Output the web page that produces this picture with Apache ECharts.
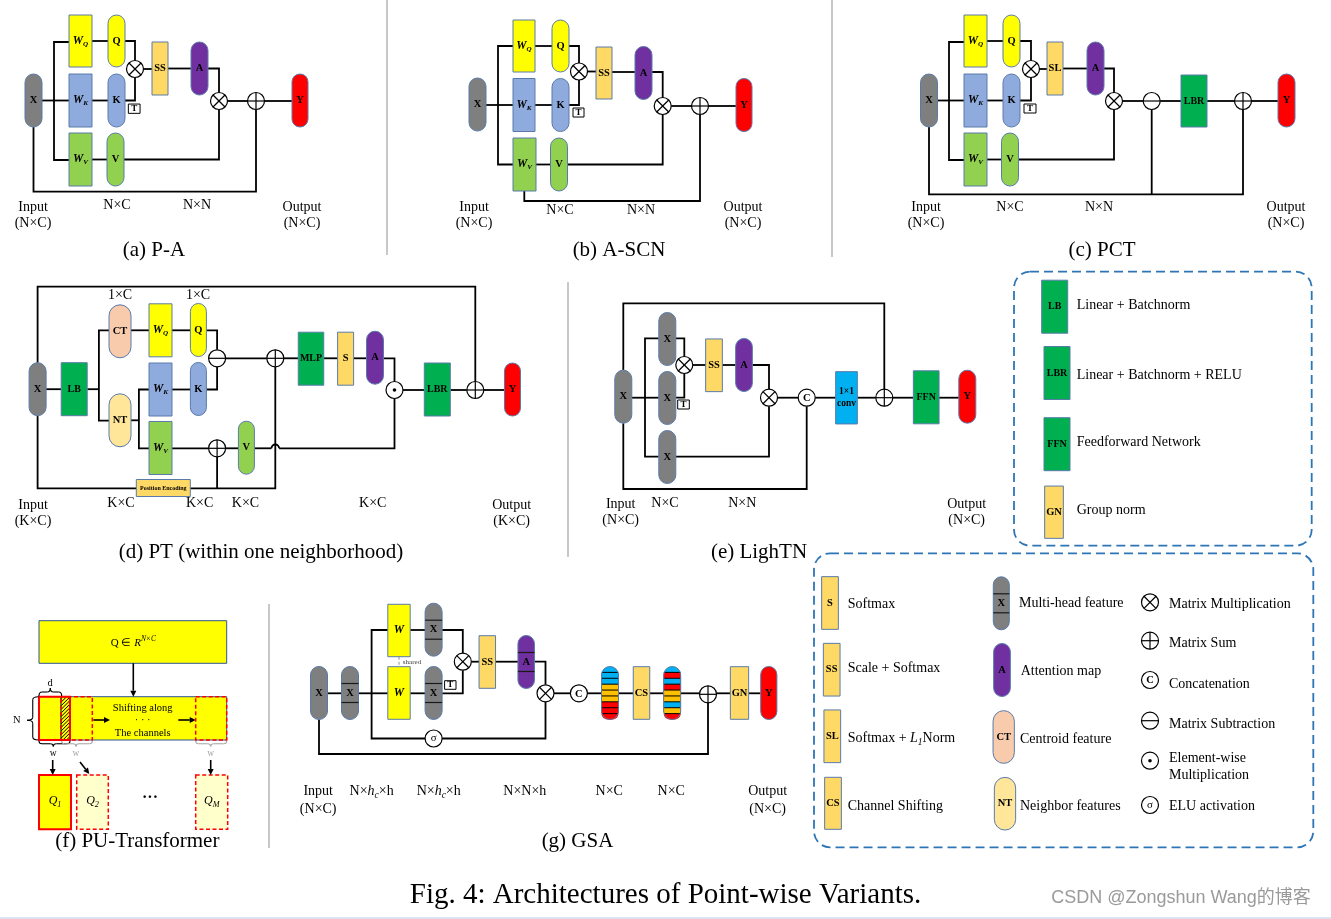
<!DOCTYPE html>
<html><head><meta charset="utf-8">
<script src="https://cdn.jsdelivr.net/npm/echarts@6/dist/echarts.min.js"></script>
<style>html,body{margin:0;padding:0;background:#fff}#c{width:1331px;height:919px}</style>
</head><body><div id="c"></div>
<script>
const SERIF = '"Liberation Serif","Times New Roman",serif';
const SANS = '"Liberation Sans","Noto Sans CJK SC",sans-serif';
const FILL = {gray:'#7F7F7F', yel:'#FFFF00', blue:'#8FAADC', grn:'#92D050', ss:'#FFD966', pur:'#7030A0',
  red:'#FF0000', dg:'#00B050', ct:'#F8CBAD', nt:'#FFE699', cyan:'#00B0F0', white:'#FFFFFF',
  sb:'#00B0F0', so:'#FFC000', sr:'#FF0000', pale:'#FFFFCC', none:'none'};
const OP_R = 8.5;

// ---------- (a) P-A ----------
const paBlocks = [
  ['pill',33.5,100.5,17,53,'gray','X'], ['rect',80.5,41,23,52,'yel','W','Q'], ['pill',116.5,41,17,52,'yel','Q'],
  ['rect',80.5,100.5,23,53,'blue','W','K'], ['pill',116.5,100.5,17,53,'blue','K'],
  ['rect',80.5,159.5,23,53,'grn','W','V'], ['pill',115.5,159.5,17,53,'grn','V'],
  ['rect',160,68.5,16,53,'ss','SS'], ['pill',199.5,68.5,17,53,'pur','A'], ['pill',300,100.5,16,53,'red','Y'],
  ['tbox',134.2,108.7,11.7,9.3,'white','T']];
const paOps = [['mul',135,69],['mul',219,101],['sum',256,101]];
const paWires = [
  [42,100.5,69,100.5],[69,42,54,42,54,160,69,160],[92,41,108,41],[125,41,135,41,135,60.5],
  [92,100.5,108,100.5],[125,100.5,135,100.5,135,77.5],[92,159.5,107,159.5],[143.5,69,152,69],
  [168,68.5,191,68.5],[208,68.5,219,68.5,219,92.5],[124,159.5,219,159.5,219,109.5],
  [227.5,101,247.5,101],[264.5,101,292,101],[33.5,127,33.5,191.7,256,191.7,256,109.5]];
const paTexts = [['lab',33,207,'Input'],['lab',33,223,'(N×C)'],['lab',117,205,'N×C'],['lab',197,205,'N×N'],
  ['lab',302,207,'Output'],['lab',302,223,'(N×C)'],['cap',154,250,'(a) P-A']];

// ---------- (b) A-SCN ----------
const pbBlocks = [
  ['pill',477.5,104.5,17,53,'gray','X'], ['rect',524,46,22,52,'yel','W','Q'], ['pill',560.5,46,17,52,'yel','Q'],
  ['rect',524,105,22,53,'blue','W','K'], ['pill',560.5,105,17,53,'blue','K'],
  ['rect',524.5,164.5,23,53,'grn','W','V'], ['pill',559,164.5,17,53,'grn','V'],
  ['rect',604,73,16,52,'ss','SS'], ['pill',643.5,73,17,53,'pur','A'], ['pill',744,105,16,53,'red','Y'],
  ['tbox',578.5,112.5,11,9,'white','T']];
const pbOps = [['mul',579,71.5],['mul',662.7,106],['sum',700,106]];
const pbWires = [
  [486,105,513,105],[513,46,498,46,498,164.5,513,164.5],[535,46,552,46],[569,46,579,46,579,63],
  [535,105,552,105],[569,105,579,105,579,80],[536,164.5,550.5,164.5],[587.5,71.5,596,71.5],
  [612,72,635,72],[652,72,662.7,72,662.7,97.5],[567.5,164.5,662.7,164.5,662.7,114.5],
  [671.2,106,691.5,106],[708.5,106,736,106],[524.3,191,524.3,201,700,201,700,114.5]];
const pbTexts = [['lab',474,207,'Input'],['lab',474,223,'(N×C)'],['lab',560,210,'N×C'],['lab',641,210,'N×N'],
  ['lab',743,207,'Output'],['lab',743,223,'(N×C)'],['cap',619,250,'(b) A-SCN']];

// ---------- (c) PCT ----------
const pcBlocks = [
  ['pill',929,100.5,17,53,'gray','X'], ['rect',975.5,41,23,52,'yel','W','Q'], ['pill',1011.5,41,17,52,'yel','Q'],
  ['rect',975.5,100.5,23,53,'blue','W','K'], ['pill',1011.5,100.5,17,53,'blue','K'],
  ['rect',975.5,159.5,23,53,'grn','W','V'], ['pill',1010,159.5,17,53,'grn','V'],
  ['rect',1055,68.5,16,53,'ss','SL'], ['pill',1095.5,68.5,17,53,'pur','A'], ['rect',1194,101,26,52,'dg','LBR'],
  ['pill',1286.5,100.5,17,53,'red','Y'], ['tbox',1030,108.5,12,9,'white','T']];
const pcOps = [['mul',1031,69],['mul',1114,101],['sub',1151.7,101],['sum',1243,101]];
const pcWires = [
  [937.5,100.5,964,100.5],[964,42,949,42,949,160,964,160],[987,41,1003,41],[1020,41,1031,41,1031,60.5],
  [987,100.5,1003,100.5],[1020,100.5,1031,100.5,1031,77.5],[987,159.5,1002,159.5],[1039.5,69,1047,69],
  [1063,68.5,1087,68.5],[1104,68.5,1114,68.5,1114,92.5],[1018.5,159.5,1114,159.5,1114,109.5],
  [1122.5,101,1143.2,101],[1160.2,101,1181,101],[1207,101,1234.5,101],[1251.5,101,1278,101],
  [929,127,929,194.3,1243,194.3,1243,109.5],[1151.7,194.3,1151.7,109.5]];
const pcTexts = [['lab',926,207,'Input'],['lab',926,223,'(N×C)'],['lab',1010,207,'N×C'],['lab',1099,207,'N×N'],
  ['lab',1286,207,'Output'],['lab',1286,223,'(N×C)'],['cap',1102,250,'(c) PCT']];

// ---------- (d) PT ----------
const pdBlocks = [
  ['pill',37.6,389.2,17,53,'gray','X'], ['rect',74.2,389.2,26,53,'dg','LB'],
  ['pill',120,331.3,22,53,'ct','CT'], ['pill',120,420.3,22,53,'nt','NT'],
  ['rect',160.5,330.3,23,53,'yel','W','Q'], ['pill',198.4,330,16,53,'yel','Q'],
  ['rect',160.5,389.5,23,53,'blue','W','K'], ['pill',198.4,389,16,53,'blue','K'],
  ['rect',160.5,448,23,53,'grn','W','V'], ['pill',246.4,447.7,16,53,'grn','V'],
  ['rect',311,358.7,25.5,53,'dg','MLP'], ['rect',345.6,358.7,16,53,'ss','S'], ['pill',375,357.7,17,53,'pur','A'],
  ['rect',437.3,389.5,26,53,'dg','LBR'], ['pill',512.5,389.5,16,53,'red','Y'],
  ['rect',163.3,488,54,17,'ss','Position Encoding']];
const pdOps = [['sub',217.1,358.3],['sum',275.3,358.3],['dot',394.5,390],['sum',475.3,390],['sum',217.1,448.3]];
const pdWires = [
  [37.6,362.7,37.6,286.7,475.3,286.7,475.3,381.5],[46.1,389.2,61.2,389.2],[87.3,389.2,98.9,389.2],
  [109,330.3,98.9,330.3,98.9,420.7,109,420.7],[131,330.3,149,330.3],[172,330.3,190.4,330.3],
  [206.4,330.3,217.1,330.3,217.1,349.8],[131,420.3,138.9,420.3],[149,389.5,138.9,389.5,138.9,448.3,149,448.3],
  [172,389.5,190.4,389.5],[206.4,389.5,217.1,389.5,217.1,366.8],[225.6,358.3,266.8,358.3],
  [283.8,358.3,298.2,358.3],[323.7,358.3,337.6,358.3],[353.6,358.3,366.5,358.3],
  [383.5,358.3,394.5,358.3,394.5,381.5],[403,390,424.3,390],[450.3,390,466.8,390],[483.8,390,504.5,390],
  [172,448.3,208.6,448.3],[225.6,448.3,238.4,448.3],[254.4,448.3,271.5,448.3],
  [279.1,448.3,394.5,448.3,394.5,398.5],[37.6,415.7,37.6,488.3,275.3,488.3,275.3,366.8],[217.1,488.3,217.1,456.8]];
const pdHops = [[275.3,448.3,3.8]];
const pdTexts = [['lab',120,295,'1×C'],['lab',198,295,'1×C'],['lab',33,505,'Input'],['lab',33,521,'(K×C)'],
  ['lab',121,503,'K×C'],['lab',199.6,503,'K×C'],['lab',245.5,503,'K×C'],['lab',372.7,503,'K×C'],
  ['lab',511.6,505,'Output'],['lab',511.6,521,'(K×C)'],['cap',261,552,'(d) PT (within one neighborhood)']];

// ---------- (e) LighTN ----------
const peBlocks = [
  ['pill',623.3,396.7,17,53,'gray','X'], ['pill',667.3,339,17,53,'gray','X'], ['pill',667.3,398,17,53,'gray','X'],
  ['pill',667.3,457,17,53,'gray','X'], ['rect',714,365.3,16.7,52.7,'ss','SS'], ['pill',744,365,16.7,53,'pur','A'],
  ['rect',846.5,397.8,21.7,52.3,'cyan','1×1\nconv'], ['rect',926.2,397.3,25.7,53,'dg','FFN'],
  ['pill',967.3,396.7,17,53,'red','Y'], ['tbox',683.5,404.5,11.6,9,'white','T']];
const peOps = [['mul',684.3,365],['mul',769,397.7],['cat',806.7,397.7],['sum',884.3,397.7]];
const peWires = [
  [623.3,370,623.3,303.3,884.3,303.3,884.3,389.2],[631.8,397.7,658.8,397.7],
  [658.8,338.3,645,338.3,645,456.7,658.8,456.7],[675.8,338.3,684.3,338.3,684.3,356.5],
  [675.8,397.7,684.3,397.7,684.3,373.5],[692.8,365,705.7,365],[722.3,365,735.7,365],
  [752.3,365,769,365,769,389.2],[675.8,456.7,769,456.7,769,406.2],[777.5,397.7,798.2,397.7],
  [815.2,397.7,835.7,397.7],[857.3,397.7,875.8,397.7],[892.8,397.7,913.3,397.7],[939,397.7,959,397.7],
  [623.3,423.3,623.3,489,806.7,489,806.7,406.2]];
const peTexts = [['lab',620.7,504.3,'Input'],['lab',620.7,520.7,'(N×C)'],['lab',665,503.3,'N×C'],
  ['lab',742.3,503.3,'N×N'],['lab',966.7,504.3,'Output'],['lab',966.7,520.7,'(N×C)'],['cap',759,552.7,'(e) LighTN']];

// ---------- (g) GSA ----------
const STRIPES = {s1:['sb','sb','sb','so','so','so','sr','sr','sr'], s2:['sb','sr','sb','sr','so','so','sb','so','sr']};
const pgBlocks = [
  ['pill',319,693,17,53,'gray','X'], ['mpill',350,693,17,53,'gray','X'],
  ['rect',399,630.5,22.4,52.4,'yel','W'], ['rect',399,693,22.4,52.6,'yel','W'],
  ['mpill',433.6,629.7,17,53,'gray','X'], ['mpill',433.6,693,17,53,'gray','X'], ['tbox',450.3,685,11.4,8.6,'white','T'],
  ['rect',487.3,662,16.5,52.6,'ss','SS'], ['mpill',526.2,662,16.5,53,'pur','A'],
  ['spill',610,693,17,53,'s1'], ['rect',641.5,693,16.5,52.6,'ss','CS'], ['spill',672.2,693,17,53,'s2'],
  ['rect',739.5,693,18.3,52.6,'ss','GN'], ['pill',768.8,693,16.2,53,'red','Y']];
const pgOps = [['mul',462.8,661.7],['mul',545.5,693.3],['cat',578.9,693.3],['sum',708,694.3],['sig',433.6,738.5]];
const pgWires = [
  [327.5,693.3,341.5,693.3],[358.5,693.3,387.8,693.3],[387.8,630,371.6,630,371.6,738.5,425.1,738.5],
  [442.1,738.5,545.5,738.5,545.5,701.8],[410.2,630,425.1,630],[410.2,693.3,425.1,693.3],
  [442.1,630,462.8,630,462.8,653.2],[442.1,693.3,462.8,693.3,462.8,670.2],[471.3,661.7,479,661.7],
  [495.5,661.7,518,661.7],[534.5,661.7,545.5,661.7,545.5,684.8],[554,693.3,570.4,693.3],
  [587.4,693.3,601.3,693.3],[618.5,693.3,633.3,693.3],[649.8,693.3,663.6,693.3],[680.8,693.3,699.5,693.3],
  [716.5,693.3,730.4,693.3],[748.7,693.3,760.7,693.3],[319,719.5,319,754,708,754,708,702.8]];
const pgDashed = [[399,656.7,399,666.7]];
const pgTexts = [['lab',318.2,791.7,'Input'],['lab',318.2,809,'(N×C)'],['lab',371.6,791.7,'N×{i|h}{s|c}×h'],
  ['lab',438.7,791.7,'N×{i|h}{s|c}×h'],['lab',524.8,791.7,'N×N×h'],['lab',609.2,791.7,'N×C'],['lab',671.2,791.7,'N×C'],
  ['lab',767.6,791.7,'Output'],['lab',767.6,809,'(N×C)'],['sm',412,661.7,'shared'],['cap',577.5,841.7,'(g) GSA']];

// ---------- (f) PU-Transformer ----------
const pfRects = [
  ['box',39,620.7,226.7,663.3,'yel','#2F5597',1,0], ['box',39,696.7,226.7,740,'yel','#2F5597',1,0],
  ['hatch',61,696.7,70,740], ['box',61,696.7,92.3,740,'none','#FF0000',1.5,1],
  ['box',195.7,696.7,226.7,740,'none','#FF0000',1.5,1], ['box',39,696.7,70,740,'none','#FF0000',2,0],
  ['box',39,775,71,829.3,'yel','#FF0000',2,0], ['box',76.7,775,108.3,829.3,'pale','#FF0000',1.5,1],
  ['box',195.7,775,227.7,829.3,'pale','#FF0000',1.5,1]];
const pfArrows = [[133.3,663.3,133.3,696.7],[93.3,720,110,720],[178.3,720,195.7,720],
  [52.7,760,52.7,775],[80,762,89.3,774],[210.7,760,210.7,775]];
const pfBraces = [['h',39,61.7,696,688,50.3,'#000'],['v',696.7,740,38.5,27,720.3,'#000'],
  ['h',39,70,741,746.5,53.3,'#000'],['h',61.7,92.3,741,746.5,76,'#AAAAAA'],['h',195.7,226.7,741,746.5,210.7,'#AAAAAA']];
const pfTexts = [['f11',133.3,642.7,'Q ∈ {i|R}{p|N×C}'],['f10',142.7,708.7,'Shifting along'],['f10',142.7,720,'· · ·'],
  ['f10',142.7,733.7,'The channels'],['f10',50,683.5,'d'],['f10',16.7,720.3,'N'],['f9',53.3,753,'w'],
  ['gray9',76,753,'w'],['gray9',210.7,753,'w'],['q',55,801,'{i|Q}{s|1}'],['q',92.5,801,'{i|Q}{s|2}'],
  ['q',211.7,801,'{i|Q}{s|M}'],['dots',150,798.3,'···'],['cap',137.3,841.7,'(f) PU-Transformer']];

// ---------- legends ----------
const legBlocks1 = [['rect',1054.7,306.7,26,53,'dg','LB'],['rect',1057,373,26,53,'dg','LBR'],
  ['rect',1057,444.2,26,53,'dg','FFN'],['rect',1054,512.2,18.7,52.3,'ss','GN']];
const legTexts1 = [['leg',1076.7,305.7,'Linear + Batchnorm'],['leg',1076.7,375.7,'Linear + Batchnorm + RELU'],
  ['leg',1076.7,442.3,'Feedforward Network'],['leg',1076.7,510.7,'Group norm']];
const legBlocks2 = [['rect',830,603,16.7,52.7,'ss','S'],['rect',831.7,669.7,16.7,52.7,'ss','SS'],
  ['rect',832.3,736.3,16.7,52.7,'ss','SL'],['rect',833,803.3,16.7,52,'ss','CS'],
  ['mpill',1001.3,603.3,16,53,'gray','X'],['pill',1002,670,16.7,53,'pur','A'],
  ['pill',1003.7,737,21.3,52.7,'ct','CT'],['pill',1005,803.7,21.3,52.7,'nt','NT']];
const legOps2 = [['mul',1150,602.3],['sum',1150,640.7],['cat',1150,680],['sub',1150,720.7],['dot',1150,760.7],['sig',1150,805]];
const legTexts2 = [['leg',847.7,604.3,'Softmax'],['leg',847.7,668.3,'Scale + Softmax'],
  ['leg',847.7,738.3,'Softmax + {i|L}{s|1}Norm'],['leg',847.7,806.7,'Channel Shifting'],
  ['leg',1019,603.3,'Multi-head feature'],['leg',1020.7,671.7,'Attention map'],['leg',1020,739.3,'Centroid feature'],
  ['leg',1020,806.7,'Neighbor features'],['leg',1169,604.3,'Matrix Multiplication'],['leg',1169,643.3,'Matrix Sum'],
  ['leg',1169,684.3,'Concatenation'],['leg',1169,724.3,'Matrix Subtraction'],['leg',1169,758.3,'Element-wise'],
  ['leg',1169,775.7,'Multiplication'],['leg',1169,806.7,'ELU activation']];
const frames = [[1014,271.7,1311.7,545.7],[814,553.3,1313.3,847.3]];
const separators = [[387,0,387,255],[832,0,832,257],[568,282,568,557],[269,604,269,848],[0,918,1331,918]];
const pageTexts = [['title',665.5,895,'Fig. 4: Architectures of Point-wise Variants.'],['wm',1181,898,'CSDN @Zongshun Wang的博客']];

// ---------- assembly ----------
const allBlocks = [].concat(paBlocks,pbBlocks,pcBlocks,pdBlocks,peBlocks,pgBlocks,legBlocks1,legBlocks2);
const allOps = [].concat(paOps,pbOps,pcOps,pdOps,peOps,pgOps,legOps2);
const allWires = [].concat(paWires,pbWires,pcWires,pdWires,peWires,pgWires);
const allTexts = [].concat(paTexts,pbTexts,pcTexts,pdTexts,peTexts,pgTexts,pfTexts,legTexts1,legTexts2,pageTexts);

const LABEL_SIZE = {'Position Encoding':6,'1×1\nconv':9.5,'LBR':10,'MLP':10,'FFN':10,'LB':10,'T':9};
const TK = {
  lab:{family:SERIF,size:14,align:'center'}, cap:{family:SERIF,size:21,align:'center'},
  leg:{family:SERIF,size:14,align:'left'}, f10:{family:SERIF,size:10.5,align:'center'},
  f11:{family:SERIF,size:11,align:'center'},
  f9:{family:SERIF,size:9.5,align:'center'}, gray9:{family:SERIF,size:9.5,align:'center',color:'#A6A6A6'},
  sm:{family:SERIF,size:7,align:'center',color:'#404040'}, q:{family:SERIF,size:12,align:'center'},
  dots:{family:SERIF,size:16,align:'center',weight:'bold'}, title:{family:SERIF,size:29,align:'center'},
  wm:{family:SANS,size:18,align:'center',color:'#9A9A9A'}};

function textEl(x, y, text, o) {
  const base = {fontFamily:o.family, fontSize:o.size, fontWeight:o.weight||'normal', fill:o.color||'#000'};
  const L = o.size*1.25;
  return {type:'text', x:x, y:y, style:Object.assign({}, base, {text:text, align:o.align||'center', verticalAlign:'middle', lineHeight:L,
    rich:{
      w:Object.assign({}, base, {fontStyle:'italic', fontSize:o.size*1.1, lineHeight:L}),
      i:Object.assign({}, base, {fontStyle:'italic', lineHeight:L}),
      s:Object.assign({}, base, {fontStyle:'italic', fontSize:o.size*0.68, lineHeight:o.size*0.75, verticalAlign:'bottom'}),
      p:Object.assign({}, base, {fontStyle:'italic', fontSize:o.size*0.68, lineHeight:o.size*0.75, verticalAlign:'top'})
    }})};
}

function renderBlock(b, api) {
  const [shape, cx, cy, w, h, fillKey, label, sub] = b;
  const p0 = api.coord([cx - w/2, cy - h/2]), p1 = api.coord([cx + w/2, cy + h/2]);
  const x = Math.min(p0[0],p1[0]), y = Math.min(p0[1],p1[1]);
  const W = Math.abs(p1[0]-p0[0]), H = Math.abs(p1[1]-p0[1]);
  const R = W/2, edge = '#5A7BAA', kids = [];
  if (shape === 'spill') {
    const bands = STRIPES[fillKey], bh = H/bands.length;
    bands.forEach((k,i) => kids.push({type:'rect', shape:{x:x, y:y+i*bh, width:W, height:H-i*bh, r: i===0 ? R : [0,0,R,R]}, style:{fill:FILL[k]}}));
    for (let i = 1; i < bands.length; i++) kids.push({type:'line', shape:{x1:x+0.5, y1:y+i*bh, x2:x+W-0.5, y2:y+i*bh}, style:{stroke:'#000', lineWidth:1}});
    kids.push({type:'rect', shape:{x:x, y:y, width:W, height:H, r:R}, style:{fill:'none', stroke:edge, lineWidth:1}});
  } else {
    const r = (shape === 'pill' || shape === 'mpill') ? R : 0;
    kids.push({type:'rect', shape:{x:x, y:y, width:W, height:H, r:r}, style:{fill:FILL[fillKey], stroke: shape==='tbox' ? '#000' : edge, lineWidth:1}});
    if (shape === 'mpill') [-9.5, 9.5].forEach(d => {
      const yy = api.coord([cx, cy + d])[1];
      kids.push({type:'line', shape:{x1:x, y1:yy, x2:x+W, y2:yy}, style:{stroke:'#1a1a1a', lineWidth:1.2}});
    });
  }
  if (label) {
    const c = api.coord([cx, cy]);
    const size = LABEL_SIZE[label] || 10.5;
    const txt = sub ? '{w|' + label + '}{s|' + sub + '}' : (label === 'W' ? '{w|W}' : label);
    kids.push(textEl(c[0], c[1], txt, {family:SERIF, size:size, weight:'bold'}));
  }
  return {type:'group', children:kids};
}

function renderOp(o, api) {
  const [type, cx, cy] = o;
  const c = api.coord([cx, cy]);
  const r = api.size([OP_R*2, OP_R*2])[0]/2;
  const kids = [{type:'circle', shape:{cx:c[0], cy:c[1], r:r}, style:{fill:'#fff', stroke:'#000', lineWidth:1.2}}];
  const L = (a,b,d,e) => kids.push({type:'line', shape:{x1:c[0]+a, y1:c[1]+b, x2:c[0]+d, y2:c[1]+e}, style:{stroke:'#000', lineWidth:1.2}});
  const d = r*0.7071;
  if (type === 'mul') { L(-d,-d,d,d); L(-d,d,d,-d); }
  if (type === 'sum') { L(-r,0,r,0); L(0,-r,0,r); }
  if (type === 'sub') { L(-r,0,r,0); }
  if (type === 'dot') kids.push({type:'circle', shape:{cx:c[0], cy:c[1], r:1.8}, style:{fill:'#000'}});
  if (type === 'cat') kids.push(textEl(c[0], c[1]+0.5, 'C', {family:SERIF, size:10.5, weight:'bold'}));
  if (type === 'sig') kids.push(textEl(c[0], c[1], 'σ', {family:SERIF, size:11}));
  return {type:'group', children:kids};
}

function renderWire(w, api) {
  const pts = [];
  for (let k = 0; k < w.length; k += 2) pts.push(api.coord([w[k], w[k+1]]));
  return {type:'polyline', shape:{points:pts}, style:{stroke:'#000', lineWidth:1.8, fill:'none'}};
}
function renderHop(h, api) {
  const c = api.coord([h[0], h[1]]);
  const r = api.size([h[2]*2, h[2]*2])[0]/2;
  return {type:'arc', shape:{cx:c[0], cy:c[1], r:r, startAngle:Math.PI, endAngle:2*Math.PI, clockwise:true}, style:{stroke:'#000', lineWidth:1.8, fill:'none'}};
}
function renderDashed(s, api) {
  const a = api.coord([s[0], s[1]]), b = api.coord([s[2], s[3]]);
  return {type:'line', shape:{x1:a[0], y1:a[1], x2:b[0], y2:b[1]}, style:{stroke:'#A6A6A6', lineWidth:1.2, lineDash:[3,2]}};
}
function renderSep(s, api) {
  const a = api.coord([s[0], s[1]]), b = api.coord([s[2], s[3]]);
  const horiz = s[1] === s[3];
  return {type:'line', shape:{x1:a[0], y1:a[1], x2:b[0], y2:b[1]}, style:{stroke: horiz ? '#DCE4EF' : '#C8C8C8', lineWidth:2}};
}
function renderFrame(f, api) {
  const a = api.coord([f[0], f[1]]), b = api.coord([f[2], f[3]]);
  return {type:'rect', shape:{x:a[0], y:a[1], width:b[0]-a[0], height:b[1]-a[1], r:16}, style:{fill:'none', stroke:'#2E75B6', lineWidth:1.8, lineDash:[9,5]}};
}
function renderText(t, api) {
  const c = api.coord([t[1], t[2]]);
  return textEl(c[0], c[1], t[3], TK[t[0]]);
}
function renderPfRect(r, api) {
  const a = api.coord([r[1], r[2]]), b = api.coord([r[3], r[4]]);
  if (r[0] === 'hatch') {
    const kids = [], x0 = a[0], y0 = a[1], x1 = b[0], y1 = b[1];
    for (let k = x0 + y0 + 2; k < x1 + y1; k += 3.6) {
      const xa = Math.max(x0, k - y1), xb = Math.min(x1, k - y0);
      if (xa < xb) kids.push({type:'line', shape:{x1:xa, y1:k-xa, x2:xb, y2:k-xb}, style:{stroke:'#000', lineWidth:1}});
    }
    kids.push({type:'line', shape:{x1:x0, y1:y0, x2:x0, y2:y1}, style:{stroke:'#000', lineWidth:1}});
    return {type:'group', children:kids};
  }
  return {type:'rect', shape:{x:a[0], y:a[1], width:b[0]-a[0], height:b[1]-a[1]},
    style:{fill:FILL[r[5]], stroke:r[6], lineWidth:r[7], lineDash: r[8] ? [4,2.5] : null}};
}
function renderArrow(ar, api) {
  const a = api.coord([ar[0], ar[1]]), b = api.coord([ar[2], ar[3]]);
  const dx = b[0]-a[0], dy = b[1]-a[1], len = Math.hypot(dx, dy), ux = dx/len, uy = dy/len;
  const hl = 6, hw = 3;
  const bx = b[0]-ux*hl, by = b[1]-uy*hl;
  return {type:'group', children:[
    {type:'line', shape:{x1:a[0], y1:a[1], x2:bx, y2:by}, style:{stroke:'#000', lineWidth:1.6}},
    {type:'polygon', shape:{points:[[b[0],b[1]],[bx-uy*hw, by+ux*hw],[bx+uy*hw, by-ux*hw]]}, style:{fill:'#000'}}]};
}
function renderBrace(br, api) {
  const kids = [], st = {stroke:br[6], lineWidth:1.1, fill:'none'};
  const Q = (x1,y1,cx,cy,x2,y2) => kids.push({type:'bezierCurve', shape:{x1:x1,y1:y1,cpx1:cx,cpy1:cy,x2:x2,y2:y2}, style:st});
  const Ln = (x1,y1,x2,y2) => kids.push({type:'line', shape:{x1:x1,y1:y1,x2:x2,y2:y2}, style:st});
  if (br[0] === 'h') {
    const P0 = api.coord([br[1], br[3]]), P1 = api.coord([br[2], br[3]]), T = api.coord([br[5], br[4]]);
    const m = (P0[1] + T[1])/2, q = 3;
    Q(P0[0],P0[1], P0[0],m, P0[0]+q,m); Ln(P0[0]+q,m, T[0]-q,m); Q(T[0]-q,m, T[0],m, T[0],T[1]);
    Q(T[0],T[1], T[0],m, T[0]+q,m); Ln(T[0]+q,m, P1[0]-q,m); Q(P1[0]-q,m, P1[0],m, P1[0],P1[1]);
  } else {
    const P0 = api.coord([br[3], br[1]]), P1 = api.coord([br[3], br[2]]), T = api.coord([br[4], br[5]]);
    const m = (P0[0] + T[0])/2, q = 3;
    Q(P0[0],P0[1], m,P0[1], m,P0[1]+q); Ln(m,P0[1]+q, m,T[1]-q); Q(m,T[1]-q, m,T[1], T[0],T[1]);
    Q(T[0],T[1], m,T[1], m,T[1]+q); Ln(m,T[1]+q, m,P1[1]-q); Q(m,P1[1]-q, m,P1[1], P1[0],P1[1]);
  }
  return {type:'group', children:kids};
}

function mk(arr, anchor, fn) {
  return {type:'custom', coordinateSystem:'cartesian2d', clip:false, silent:true, animation:false,
    encode:{x:0, y:1},
    data: arr.map((d, i) => { const p = anchor(d); return [p[0], p[1], i]; }),
    renderItem: (params, api) => fn(arr[params.dataIndex], api)};
}

const chart = echarts.init(document.getElementById('c'), null, {renderer:'canvas'});
chart.setOption({
  animation:false,
  backgroundColor:'#ffffff',
  grid:{left:0, right:0, top:0, bottom:0},
  xAxis:{type:'value', min:0, max:1331, show:false},
  yAxis:{type:'value', min:0, max:919, inverse:true, show:false},
  series:[
    mk(separators, d => [d[0], d[1]], renderSep),
    mk(frames, d => [d[0], d[1]], renderFrame),
    mk(allWires, d => [d[0], d[1]], renderWire),
    mk(pdHops, d => [d[0], d[1]], renderHop),
    mk(pgDashed, d => [d[0], d[1]], renderDashed),
    mk(pfRects, d => [d[1], d[2]], renderPfRect),
    mk(pfArrows, d => [d[0], d[1]], renderArrow),
    mk(pfBraces, d => [d[1], d[3]], renderBrace),
    mk(allBlocks, d => [d[1], d[2]], renderBlock),
    mk(allOps, d => [d[1], d[2]], renderOp),
    mk(allTexts, d => [d[1], d[2]], renderText)
  ]
});
</script></body></html>
